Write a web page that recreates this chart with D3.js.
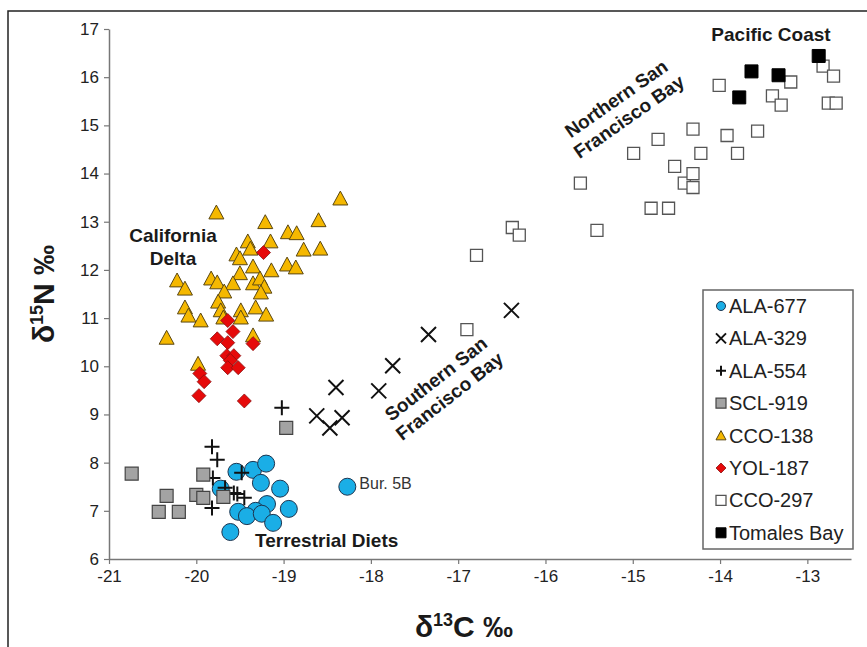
<!DOCTYPE html>
<html>
<head>
<meta charset="utf-8">
<script src="https://cdn.jsdelivr.net/npm/d3@7"></script>
<style>
  body { margin: 0; background: #fff; }
  svg { display: block; font-family: "Liberation Sans", Arial, sans-serif; }
</style>
</head>
<body>
<svg id="chart" width="867" height="647"></svg>
<script>
// values (d13C, d15N)
const ala677 = [[-19.54,7.81],[-19.35,7.85],[-19.20,7.98],[-19.26,7.58],[-19.72,7.46],[-19.04,7.46],
  [-19.19,7.14],[-19.52,6.98],[-19.32,7.0],[-19.42,6.89],[-19.25,6.94],[-18.94,7.04],[-19.12,6.75],
  [-19.61,6.56],[-18.27,7.50]];
const ala329 = [[-18.40,9.56],[-18.62,8.97],[-18.47,8.72],[-18.33,8.93],[-17.91,9.49],[-17.75,10.01],
  [-17.34,10.66],[-16.39,11.16]];
const ala554 = [[-19.02,9.14],[-19.82,8.33],[-19.76,8.06],[-19.48,7.79],[-19.81,7.68],[-19.67,7.48],
  [-19.53,7.35],[-19.45,7.27],[-19.82,7.06],[-19.57,7.37]];
const scl919 = [[-20.74,7.77],[-18.97,8.72],[-19.92,7.75],[-20.34,7.31],[-20.0,7.33],[-19.92,7.27],
  [-19.69,7.29],[-20.43,6.98],[-20.20,6.98]];
const cco138 = [[-18.35,13.48],[-19.77,13.19],[-19.21,12.99],[-18.60,13.03],[-18.95,12.78],[-18.85,12.76],
  [-19.15,12.59],[-19.41,12.59],[-19.38,12.44],[-18.77,12.42],[-18.58,12.44],[-19.54,12.32],[-19.50,12.24],
  [-19.35,12.07],[-18.96,12.11],[-18.86,12.05],[-19.14,11.99],[-19.50,11.93],[-20.22,11.78],[-20.13,11.61],
  [-19.83,11.82],[-19.76,11.74],[-19.58,11.72],[-19.68,11.55],[-19.35,11.72],[-19.27,11.82],[-19.22,11.65],
  [-19.26,11.53],[-19.75,11.34],[-20.13,11.22],[-20.09,11.05],[-19.95,10.95],[-19.72,11.16],[-19.69,11.01],
  [-19.49,11.16],[-19.49,11.01],[-19.32,11.22],[-19.20,11.07],[-20.34,10.59],[-19.98,10.05],[-19.35,10.64]];
const yol187 = [[-19.23,12.36],[-19.64,10.95],[-19.58,10.72],[-19.76,10.57],[-19.64,10.49],[-19.35,10.47],
  [-19.65,10.22],[-19.57,10.22],[-19.61,10.12],[-19.64,9.97],[-19.52,9.97],[-19.96,9.85],[-19.91,9.68],
  [-19.97,9.39],[-19.45,9.28]];
const cco297 = [[-16.90,10.76],[-16.79,12.30],[-16.38,12.88],[-16.30,12.72],[-15.41,12.82],[-15.60,13.80],
  [-14.99,14.42],[-14.71,14.71],[-14.79,13.28],[-14.59,13.28],[-14.52,14.15],[-14.41,13.80],[-14.31,14.00],
  [-14.31,13.71],[-14.31,14.92],[-14.22,14.42],[-14.01,15.83],[-13.92,14.79],[-13.80,14.42],[-13.57,14.88],
  [-13.40,15.61],[-13.30,15.42],[-13.19,15.90],[-12.82,16.23],[-12.70,16.02],[-12.76,15.46],[-12.67,15.46]];
const tomales = [[-13.64,16.12],[-13.78,15.58],[-13.33,16.04],[-12.87,16.44]];

const xTicks = [-21,-20,-19,-18,-17,-16,-15,-14,-13];
const yTicks = [6,7,8,9,10,11,12,13,14,15,16,17];

const svg = d3.select("#chart");

// frame (top + left edge of the cropped figure)
svg.append("path").attr("d", "M8,647V11H867").attr("fill", "none")
  .attr("stroke", "#222").attr("stroke-width", 1.5);

const x = d3.scaleLinear().domain([-21, -12.5]).range([109, 851]);
const y = d3.scaleLinear().domain([6, 17]).range([559, 29]);

// axes
const xAxis = svg.append("g").attr("transform", `translate(0,${y(6)})`)
  .call(d3.axisBottom(x).tickValues(xTicks).tickSize(5).tickSizeOuter(0).tickPadding(6));
const yAxis = svg.append("g").attr("transform", `translate(${x(-21)},0)`)
  .call(d3.axisLeft(y).tickValues(yTicks).tickSize(5).tickSizeOuter(0).tickPadding(5));
[xAxis, yAxis].forEach(g => {
  g.select(".domain").attr("stroke", "#777").attr("stroke-width", 1.5);
  g.selectAll(".tick line").attr("stroke", "#777").attr("stroke-width", 1.2);
  g.selectAll(".tick text").attr("fill", "#222").attr("font-size", 17)
    .attr("font-family", "'Liberation Sans Narrow', 'Liberation Sans', Arial, sans-serif");
});
xAxis.selectAll(".tick text").text(d => String(d));

// symbol shapes
function shape(type, s) {
  const h = s / 2;
  if (type === "circle") return `M${h},0A${h},${h} 0 1,1 ${-h},0A${h},${h} 0 1,1 ${h},0Z`;
  if (type === "square") return `M${-h},${-h}H${h}V${h}H${-h}Z`;
  if (type === "diamond") return `M0,${-h}L${h},0L0,${h}L${-h},0Z`;
  if (type === "triangle") return `M0,${-h}L${h},${h * 0.85}L${-h},${h * 0.85}Z`;
  if (type === "x") return `M${-h},${-h}L${h},${h}M${h},${-h}L${-h},${h}`;
  if (type === "plus") return `M0,${-h}V${h}M${-h},0H${h}`;
}

const series = [
  {name: "ALA-677", data: ala677, type: "circle", size: 17, fill: "#1aaee6", stroke: "#1d3550", sw: 1},
  {name: "ALA-329", data: ala329, type: "x", size: 15, fill: "none", stroke: "#111", sw: 2},
  {name: "ALA-554", data: ala554, type: "plus", size: 15, fill: "none", stroke: "#111", sw: 2},
  {name: "SCL-919", data: scl919, type: "square", size: 13, fill: "#a3a3a3", stroke: "#444", sw: 1.2},
  {name: "CCO-138", data: cco138, type: "triangle", size: 15, fill: "#f5b800", stroke: "#5a4712", sw: 1},
  {name: "YOL-187", data: yol187, type: "diamond", size: 14, fill: "#e60a0a", stroke: "#8a1010", sw: 0.8},
  {name: "CCO-297", data: cco297, type: "square", size: 12, fill: "#fff", stroke: "#555", sw: 1.3},
  {name: "Tomales Bay", data: tomales, type: "square", size: 13, fill: "#000", stroke: "#000", sw: 1}
];

series.forEach(s => {
  svg.append("g").selectAll("path").data(s.data).join("path")
    .attr("transform", d => `translate(${x(d[0])},${y(d[1])})`)
    .attr("d", shape(s.type, s.size))
    .attr("fill", s.fill).attr("stroke", s.stroke).attr("stroke-width", s.sw);
});

// point label
svg.append("text").attr("x", x(-18.27) + 12).attr("y", y(7.5) + 2)
  .attr("font-size", 16).attr("fill", "#333").text("Bur. 5B");

// region labels
const bold = (t) => t.attr("font-weight", "bold").attr("font-size", 19).attr("fill", "#1a1a1a");
bold(svg.append("text").attr("x", 771).attr("y", 41).attr("text-anchor", "middle")).text("Pacific Coast");
const cal = bold(svg.append("text").attr("text-anchor", "middle"));
cal.append("tspan").attr("x", 173).attr("y", 242).text("California");
cal.append("tspan").attr("x", 173).attr("y", 265).text("Delta");
bold(svg.append("text").attr("x", 255).attr("y", 547)).text("Terrestrial Diets");

function rotLabel(cx, cy, ang, lines) {
  const t = bold(svg.append("text").attr("text-anchor", "middle")
    .attr("transform", `translate(${cx},${cy}) rotate(${ang})`));
  lines.forEach((l, i) => t.append("tspan").attr("x", 0).attr("y", i * 22).text(l));
}
rotLabel(620, 104, -35, ["Northern San", "Francisco Bay"]);
rotLabel(440, 384, -38, ["Southern San", "Francisco Bay"]);

// axis titles
const xt = svg.append("text").attr("x", 464).attr("y", 637).attr("text-anchor", "middle")
  .attr("font-weight", "bold").attr("font-size", 30).attr("fill", "#1a1a1a");
xt.append("tspan").text("δ");
xt.append("tspan").attr("font-size", 18).attr("dy", -11).text("13");
xt.append("tspan").attr("dy", 11).text("C ‰");

const yt = svg.append("text").attr("transform", `translate(54,${(y(6) + y(17)) / 2}) rotate(-90)`)
  .attr("text-anchor", "middle").attr("font-weight", "bold").attr("font-size", 30).attr("fill", "#1a1a1a");
yt.append("tspan").text("δ");
yt.append("tspan").attr("font-size", 18).attr("dy", -11).text("15");
yt.append("tspan").attr("dy", 11).text("N ‰");

// legend
const lg = svg.append("g");
lg.append("rect").attr("x", 703).attr("y", 290).attr("width", 150).attr("height", 259)
  .attr("fill", "#fff").attr("stroke", "#666").attr("stroke-width", 1.5);
series.forEach((s, i) => {
  const ly = 306 + i * 32.4;
  lg.append("path").attr("transform", `translate(721,${ly})`)
    .attr("d", shape(s.type, s.type === "circle" ? 9 : 10))
    .attr("fill", s.fill).attr("stroke", s.stroke).attr("stroke-width", s.sw);
  lg.append("text").attr("x", 729).attr("y", ly + 7).attr("font-size", 20).attr("fill", "#222").text(s.name);
});
</script>
</body>
</html>
